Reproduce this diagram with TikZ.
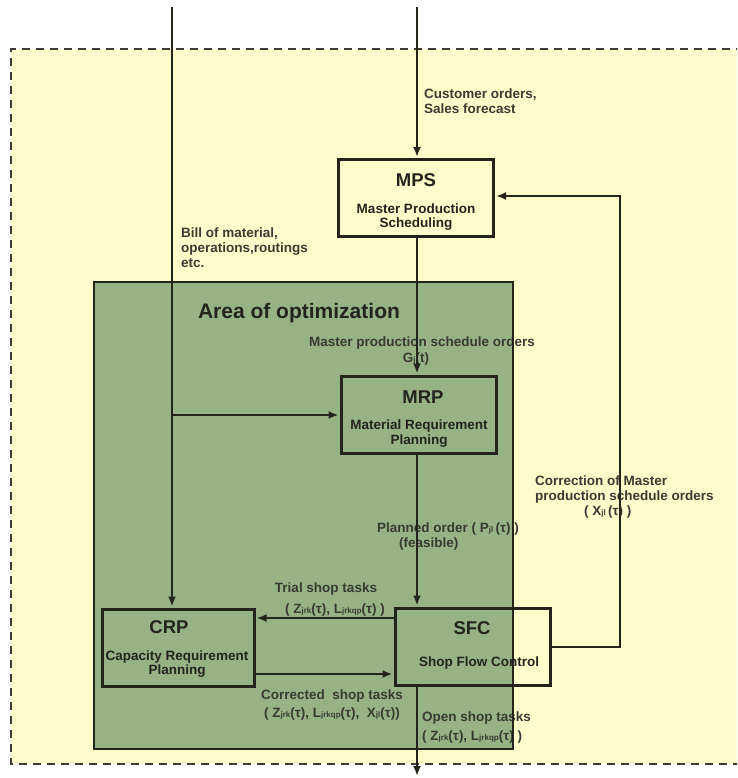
\documentclass[tikz,border=0pt]{standalone}
\usepackage{fontspec}
\setmainfont{Liberation Sans}
\usetikzlibrary{arrows.meta}
\definecolor{bgyellow}{RGB}{255,252,204}
\definecolor{optgreen}{RGB}{151,178,133}
\definecolor{ink}{RGB}{36,36,28}
\definecolor{labelink}{RGB}{58,58,48}
\definecolor{dashink}{RGB}{60,60,52}
\newcommand\sbs[1]{{\fontsize{8}{8}\selectfont #1}}
\begin{document}
\begin{tikzpicture}[x=1pt,y=-1pt,
  box/.style={draw=ink, line width=3pt, minimum width=155pt, minimum height=77pt, inner sep=0pt},
  conn/.style={draw=ink, line width=2pt},
  arr/.style={conn, -{Latex[length=10pt,width=8pt]}, shorten >=1pt},
  lbl/.style={text=labelink, font=\fontsize{13.5}{15}\selectfont\bfseries, inner sep=0pt},
  ttl/.style={text=ink, font=\fontsize{18.5}{20}\selectfont\bfseries, inner sep=0pt},
  sub/.style={text=ink, font=\fontsize{13.5}{14.5}\selectfont\bfseries, inner sep=0pt, align=center},
]
\useasboundingbox (0,0) rectangle (737,778);
\begin{scope}
\clip (0,0) rectangle (737,778);
% outer region
\fill[bgyellow] (11,49) rectangle (800,764);
\draw[dashink, line width=2.2pt, dash pattern=on 8pt off 6pt] (800,49) -- (11,49) -- (11,764) -- (800,764);
% area of optimization
\fill[optgreen] (94,282) rectangle (513,749);
\end{scope}

% labels
\node[text=ink, font=\fontsize{21}{24}\selectfont\bfseries, inner sep=0pt] (area) at (299,313) {Area of optimization};
\node[lbl, align=left, anchor=west] (cust) at (424,101) {Customer orders,\\Sales forecast};
\node[lbl, align=left, anchor=west] (bom) at (181,248) {Bill of material,\\operations,routings\\etc.};
\node[lbl] (mpso) at (422,343) {Master production schedule orders};
\node[lbl] (gjt) at (416,359) {G\sbs{j}(t)};
\node[lbl, align=left, anchor=west] (corr) at (535,497) {Correction of Master\\production schedule orders\\\hspace*{49pt}( X\sbs{jl}\,(τ) )};
\node[lbl, align=left, anchor=west] (plan) at (377,537) {Planned order ( P\sbs{jl}\,(τ) )\\\hspace*{22pt}(feasible)};
\node[lbl] (trial1) at (326,589) {Trial shop tasks};
\node[lbl] (trial2) at (335,610) {( Z\sbs{jrk}(τ), L\sbs{jrkqp}(τ) )};
\node[lbl] (cor1) at (332,696) {Corrected\ \ shop tasks};
\node[lbl] (cor2) at (332,714) {( Z\sbs{jrk}(τ), L\sbs{jrkqp}(τ),\ \ X\sbs{jl}(τ))};
\node[lbl, anchor=west] (open1) at (422,718) {Open shop tasks};
\node[lbl, anchor=west] (open2) at (422,737) {( Z\sbs{jrk}(τ), L\sbs{jrkqp}(τ) )};

% border of area of optimization
\draw[ink, line width=2pt] (94,282) rectangle (513,749);

% boxes
\node[box] (mps) at (416,198) {};
\node[box] (mrp) at (418.5,414.5) {};
\node[box, minimum width=152pt] (crp) at (178,647.5) {};
\node[box] (sfc) at (472.5,646.5) {};

\node[ttl] (mpsT) at (416,180) {MPS};
\node[sub] (mpsS) at (416,217) {Master Production\\Scheduling};
\node[ttl] (mrpT) at (423,397) {MRP};
\node[sub] (mrpS) at (419,433.5) {Material Requirement\\Planning};
\node[ttl] (crpT) at (169,627) {CRP};
\node[sub] (crpS) at (177,664) {Capacity Requirement\\Planning};
\node[ttl] (sfcT) at (472,628) {SFC};
\node[sub] (sfcS) at (479,663) {Shop Flow Control};

% connectors
\coordinate (srcL) at (172,7);
\coordinate (srcM) at (417,7);
\coordinate (sink) at (417,777);
\coordinate (branch) at (172,415);
\coordinate (loopB) at (620,647);
\coordinate (loopT) at (620,196);
\coordinate (yTrial) at (0,618);
\coordinate (yCorr) at (0,674);

\draw[arr] (srcL) -- (srcL |- crp.north);
\draw[arr] (branch) -- (branch -| mrp.west);
\draw[arr] (srcM) -- (srcM |- mps.north);
\draw[arr] (srcM |- mps.south) -- (srcM |- mrp.north);
\draw[arr] (srcM |- mrp.south) -- (srcM |- sfc.north);
\draw[arr] (sfc.west |- yTrial) -- (crp.east |- yTrial);
\draw[arr] (crp.east |- yCorr) -- (sfc.west |- yCorr);
\draw[arr] (sfc.east |- loopB) -- (loopB) -- (loopT) -- (loopT -| mps.east);
\draw[arr] (srcM |- sfc.south) -- (sink);
\end{tikzpicture}
\end{document}
